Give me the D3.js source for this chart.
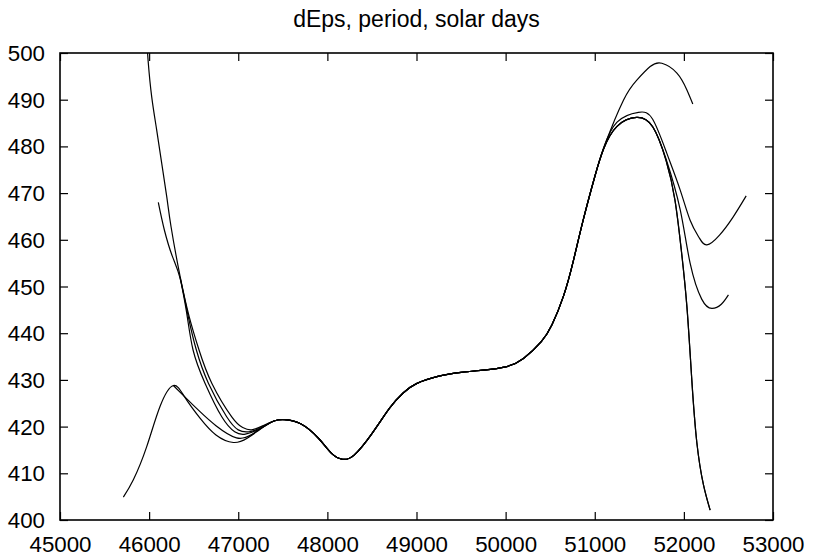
<!DOCTYPE html>
<html>
<head>
<meta charset="utf-8">
<script src="https://cdn.jsdelivr.net/npm/d3@7"></script>
<style>
  html, body { margin: 0; padding: 0; background: #fff; }
  svg { display: block; }
  text { font-family: "Liberation Sans", Arial, sans-serif; fill: #000; }
</style>
</head>
<body>
<svg id="chart" width="813" height="559"></svg>
<script>
// ---- data (x = MJD, y = dEps period in solar days) ----
const title = "dEps, period, solar days";
const xTicks = [45000, 46000, 47000, 48000, 49000, 50000, 51000, 52000, 53000];
const yTicks = [400, 410, 420, 430, 440, 450, 460, 470, 480, 490, 500];

// shared middle section common to every curve
const middle = [
  [47520, 421.5], [47700, 420.6], [47900, 417.5], [48050, 414.2], [48170, 413.0],
  [48300, 413.9], [48500, 418.5], [48700, 424.0], [48850, 427.2], [49000, 429.2],
  [49250, 430.8], [49500, 431.6], [49750, 432.1], [50000, 432.8], [50200, 434.6],
  [50400, 438.2], [50520, 441.8], [50650, 448.0], [50760, 455.5], [50870, 464.2],
  [51000, 473.5]
];

const headA = [[45711, 404.9], [45823, 408.6], [45973, 415.7], [46122, 424.3], [46272, 428.8],
  [46400, 426.3], [46571, 421.8], [46750, 418.2], [46945, 416.6], [47100, 417.5],
  [47250, 419.5], [47400, 421.2]];
const headE = [[46272, 428.8], [46420, 426.0], [46571, 423.2], [46750, 420.2], [46980, 417.6],
  [47150, 418.3], [47300, 420.2], [47400, 421.2]];
const headB = [[45975, 502.5], [45991, 497.8], [46029, 490.6], [46085, 483.5], [46141, 476.4],
  [46198, 469.2], [46246, 462.8], [46347, 452.2], [46450, 443.5], [46560, 436.4],
  [46703, 429.3], [46927, 422.1], [47050, 419.8], [47150, 419.3], [47280, 420.2], [47400, 421.2]];
const headC = [[46103, 468.0], [46171, 462.1], [46260, 456.5], [46347, 451.8], [46440, 443.5],
  [46530, 436.4], [46665, 429.3], [46870, 422.1], [47000, 419.3], [47120, 418.9],
  [47270, 419.9], [47400, 421.2]];
const headD = [[46347, 452.0], [46420, 444.5], [46493, 436.4], [46627, 429.3], [46815, 422.1],
  [46960, 418.9], [47080, 418.4], [47250, 419.6], [47400, 421.2]];

const tailA = [[51100, 479.5], [51250, 484.3], [51470, 486.2], [51650, 484.2], [51800, 477.0],
  [51900, 468.5], [51970, 458.0], [52034, 445.7], [52089, 430.0], [52146, 416.5],
  [52220, 407.5], [52295, 402.1]];
const tailD = [[51100, 479.5], [51250, 484.3], [51470, 486.2], [51650, 484.2], [51800, 477.3],
  [51958, 466.5], [52070, 455.0], [52200, 447.3], [52314, 445.3], [52420, 446.2], [52500, 448.2]];
const tailC = [[51100, 479.7], [51250, 485.2], [51490, 487.3], [51650, 485.8], [51809, 478.5],
  [51958, 470.7], [52070, 464.2], [52170, 460.5], [52258, 458.9], [52400, 461.0],
  [52550, 464.8], [52699, 469.4]];
const tailB = [[51117, 480.5], [51322, 489.9], [51472, 494.2], [51622, 497.1], [51753, 497.8],
  [51922, 495.7], [52034, 492.1], [52100, 489.1]];

const series = [
  headA.concat(middle, tailA),
  headE.concat(middle, tailA),
  headB.concat(middle, tailB),
  headC.concat(middle, tailC),
  headD.concat(middle, tailD)
];

// ---- layout ----
const svg = d3.select("#chart");
const m = { left: 60, right: 40, top: 53, bottom: 39 };
const W = 813, H = 559;
const x = d3.scaleLinear().domain([45000, 53000]).range([m.left, W - m.right]);
const y = d3.scaleLinear().domain([400, 500]).range([H - m.bottom, m.top]);

svg.append("defs").append("clipPath").attr("id", "clip")
  .append("rect").attr("x", x(45000)).attr("y", y(500))
  .attr("width", x(53000) - x(45000)).attr("height", y(400) - y(500));

const line = d3.line().x(d => x(d[0])).y(d => y(d[1])).curve(d3.curveNatural);

svg.append("g").attr("clip-path", "url(#clip)")
  .selectAll("path").data(series).enter().append("path")
  .attr("d", line).attr("fill", "none").attr("stroke", "#000").attr("stroke-width", 1.2);

// axes (inward ticks)
const fs = 22.3;
const gB = svg.append("g").attr("transform", `translate(0,${y(400)})`)
  .call(d3.axisBottom(x).tickValues(xTicks).tickSize(-8).tickPadding(16).tickFormat(d3.format("d")));
const gL = svg.append("g").attr("transform", `translate(${x(45000)},0)`)
  .call(d3.axisLeft(y).tickValues(yTicks).tickSize(-8).tickPadding(15).tickFormat(d3.format("d")));
const gT = svg.append("g").attr("transform", `translate(0,${y(500)})`)
  .call(d3.axisTop(x).tickValues(xTicks).tickSize(-8).tickFormat(""));
const gR = svg.append("g").attr("transform", `translate(${x(53000)},0)`)
  .call(d3.axisRight(y).tickValues(yTicks).tickSize(-8).tickFormat(""));

[gB, gL, gT, gR].forEach(g => {
  g.select(".domain").remove();
  g.selectAll(".tick line").attr("stroke", "#000").attr("stroke-width", 1.2);
  g.selectAll("text").attr("font-size", fs).attr("font-family", "Liberation Sans, Arial, sans-serif").attr("fill", "#000");
});
gL.selectAll("text").attr("dy", "0.34em");

svg.append("rect").attr("x", x(45000)).attr("y", y(500))
  .attr("width", x(53000) - x(45000)).attr("height", y(400) - y(500))
  .attr("fill", "none").attr("stroke", "#000").attr("stroke-width", 1.6);

svg.append("text").attr("x", (x(45000) + x(53000)) / 2).attr("y", 26.5)
  .attr("text-anchor", "middle").attr("font-size", 23).text(title);
</script>
</body>
</html>
